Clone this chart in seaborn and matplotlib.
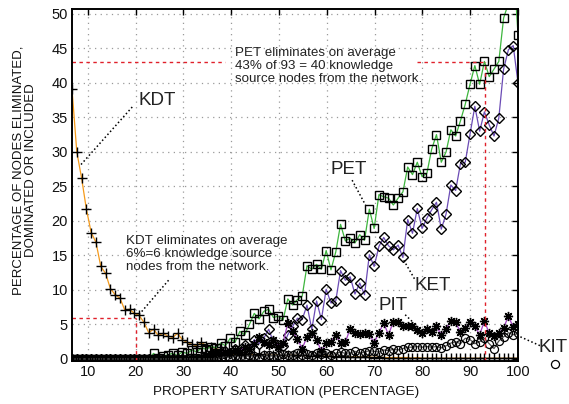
import numpy as np
import pandas as pd
import matplotlib
matplotlib.use("Agg")
import matplotlib.pyplot as plt
import seaborn as sns

# Property saturation levels (percent) at which the network was evaluated
saturation = np.linspace(6.7, 100, 94)

kdt = [39.1, 30.0, 26.2, 21.7, 18.3, 16.9, 13.4, 12.4, 10.2, 9.3,
       8.8, 7.1, 7.2, 6.6, 6.3, 5.3, 3.8, 4.3, 3.4, 3.7,
       3.3, 3.1, 3.7, 2.8, 2.4, 2.1, 1.9, 2.4, 1.9, 1.8,
       1.5, 1.3, 1.0, 0.8, 0.6, 0.6, 0.7, 0.6, 0.6, 0.7,
       0.6, 0.6, 0.5, 0.6, 0.5, 0.5, 0.6, 0.5, 0.5, 0.5,
       0.4, 0.5, 0.4, 0.4, 0.4, 0.3, 0.4, 0.3, 0.3, 0.3,
       0.3, 0.3, 0.3, 0.2, 0.3, 0.2, 0.2, 0.2, 0.2, 0.2,
       0.2, 0.1, 0.2, 0.1, 0.1, 0.1, 0.1, 0.1, 0.1, 0.1,
       0.1, 0.1, 0.1, 0.1, 0.1, 0.1, 0.1, 0.1, 0.1, 0.1,
       0.1, 0.1, 0.1, 0.1]

pet = [0.0] * 17 + [
       0.8, 0.2, 0.4, 0.6, 0.8, 0.5, 1.0, 0.8, 1.3, 1.0,
       1.6, 1.4, 1.8, 1.6, 2.3, 1.9, 3.0, 2.4, 4.0, 3.5,
       5.0, 6.6, 5.8, 6.9, 7.2, 6.0, 6.2, 5.6, 8.7, 7.8,
       8.6, 9.1, 13.5, 13.0, 13.7, 13.0, 15.7, 12.9, 15.5, 19.5,
       17.1, 17.5, 16.8, 18.0, 17.2, 21.7, 18.9, 23.8, 23.5, 23.3,
       22.3, 23.3, 24.2, 27.8, 26.7, 28.5, 26.4, 26.9, 30.4, 32.5,
       28.5, 30.0, 33.2, 32.3, 34.5, 36.9, 39.8, 42.5, 39.8, 43.1,
       40.9, 42.0, 43.1, 49.4, 51.5, 58.0, 47.0]

ket = [0.0] * 29 + [
       0.3, 0.5, 0.8, 1.2, 0.8, 1.5, 1.0, 2.0, 1.5, 2.8,
       2.2, 3.0, 4.3, 2.5, 2.0, 1.9, 3.5, 4.7, 5.9, 5.7,
       7.8, 4.3, 8.4, 5.7, 10.1, 8.1, 8.4, 12.8, 11.4, 11.9,
       9.4, 11.0, 9.3, 15.1, 13.4, 16.3, 17.6, 16.4, 15.8, 16.5,
       14.7, 20.2, 18.2, 21.8, 18.9, 20.4, 21.6, 22.7, 18.8, 21.0,
       25.2, 24.4, 28.3, 28.5, 32.6, 36.6, 33.0, 35.8, 33.9, 32.3,
       34.9, 42.0, 44.8, 45.4, 40.0]

pit = [0.0] * 27 + [
       0.3, 0.5, 0.4, 0.8, 0.6, 1.0, 0.8, 1.3, 1.0, 1.8,
       1.4, 2.2, 3.2, 2.4, 2.0, 2.8, 1.8, 2.3,
       5.2, 4.0, 2.9, 1.5, 3.2, 3.7, 2.8, 1.1, 2.3, 2.5,
       3.5, 2.3, 2.4, 4.4, 3.7, 3.6, 3.8, 3.6, 2.3, 3.8,
       5.2, 3.5, 5.4, 5.3, 4.8, 4.8, 4.8, 4.2, 3.7, 4.4,
       3.9, 4.7, 3.5, 4.4, 5.5, 5.3, 3.9, 4.5, 5.3, 4.8,
       3.5, 5.5, 3.7, 3.3, 3.7, 4.5, 6.2, 4.6, 5.0]

kit = [0.0] * 31 + [
       0.2, 0.3, 0.2, 0.4, 0.3, 0.3, 0.5, 0.4, 0.3, 0.5,
       0.6, 0.4, 0.5, 0.7, 0.5, 0.6, 0.8, 0.6, 0.7, 0.5,
       0.8, 0.7, 0.9, 0.6, 0.8, 1.0, 0.8, 0.9, 1.1, 0.9,
       1.0, 1.2, 1.1, 1.0, 1.3, 1.2, 1.4, 1.3,
       1.5, 1.7, 1.7, 1.8, 1.7, 1.8, 1.7, 1.8, 1.6, 1.9,
       2.3, 2.5, 2.2, 3.0, 2.8, 2.2, 2.5, 3.0, 2.2, 1.5,
       2.6, 3.2, 3.8, 3.5, 3.7]

series_names = ["KDT", "PET", "KET", "PIT", "KIT"]
series_values = [kdt, pet, ket, pit, kit]

frames = [pd.DataFrame({"saturation": saturation, "percent": vals, "method": name})
          for name, vals in zip(series_names, series_values)]
df = pd.concat(frames, ignore_index=True)

styles = {
    "KDT": dict(color="#f59a1b", marker="+", ms=6.8, mew=1.0),
    "PET": dict(color="#3db53d", marker="s", ms=5.8, mew=1.0),
    "KET": dict(color="#6b4bb5", marker="D", ms=5.2, mew=1.0),
    "PIT": dict(color="#a040c0", marker=(8, 2, 0), ms=6.6, mew=1.0),
    "KIT": dict(color="#555555", marker="o", ms=5.8, mew=0.9),
}

sns.set_theme(style="white")
plt.rcParams["font.family"] = ["Liberation Sans", "DejaVu Sans"]

fig = plt.figure(figsize=(5.69, 4.04), dpi=100)
ax = fig.add_axes([72 / 569, 1 - 361 / 404, 446 / 569, 352 / 404])

for name in series_names:
    st = styles[name]
    sub = df[df["method"] == name]
    sns.lineplot(data=sub, x="saturation", y="percent", ax=ax, sort=False,
                 estimator=None, color=st["color"], lw=0.9,
                 marker=st["marker"], markersize=st["ms"],
                 markerfacecolor="none", mec="black", mew=st["mew"],
                 legend=False)

ax.set_xlim(6.7, 100)
ax.set_ylim(-0.3, 50.7)
ax.set_xticks(np.arange(10, 101, 10))
ax.set_yticks(np.arange(0, 51, 5))
ax.grid(True, color="#9a9a9a", lw=0.9, ls=(0, (1, 3.5)))
ax.tick_params(direction="in", length=4, width=1.0, top=True, right=True,
               labelsize=10.5, colors="black", pad=3)
for lab in ax.get_xticklabels() + ax.get_yticklabels():
    lab.set_color("#111111")
for sp in ax.spines.values():
    sp.set_linewidth(1.4)
    sp.set_color("black")

ax.set_xlabel("")
ax.set_ylabel("")
fig.text(286 / 569, 1 - 392 / 404, "PROPERTY SATURATION (PERCENTAGE)",
         ha="center", va="center", fontsize=9.6, color="#111111")
fig.text(25 / 569, 1 - 170 / 404,
         "PERCENTAGE OF NODES ELIMINATED,\nDOMINATED OR INCLUDED",
         ha="center", va="center", rotation=90, fontsize=9.5,
         multialignment="center", linespacing=1.1, color="#111111")

red = dict(color="#e0202a", lw=1.0, ls=(0, (2.5, 2.5)))
# KDT average: 6 % at 20 % saturation
ax.plot([6.7, 20], [6, 6], **red)
ax.plot([20, 20], [-0.3, 6], **red)
# PET average: 43 % at 93 % saturation (broken around the note)
ax.plot([6.7, 38.8], [43, 43], **red)
ax.plot([78.9, 93], [43, 43], **red)
ax.plot([93, 93], [-0.3, 43], **red)

txt = dict(fontsize=9.6, color="#222222", linespacing=1.12, ha="left", va="center")
ax.text(40.9, 42.4, "PET eliminates on average\n43% of 93 = 40 knowledge\n"
        "source nodes from the network.", **txt)
ax.text(17.9, 15.2, "KDT eliminates on average\n6%=6 knowledge source\n"
        "nodes from the network.", **txt)

lab = dict(fontsize=13.5, color="#222222", ha="center", va="center")
dot = dict(color="black", lw=1.1, ls=(0, (1, 1.6)), clip_on=False)
ax.text(24.6, 37.4, "KDT", **lab)
ax.plot([19.3, 8.5], [36.5, 28.1], **dot)
ax.plot([26.9, 20.7], [11.4, 6.4], **dot)
ax.text(64.6, 27.5, "PET", **lab)
ax.plot([65.3, 68.1], [25.9, 22.3], **dot)
ax.text(82.1, 10.6, "KET", **lab)
ax.plot([76.1, 78.6], [14.3, 11.3], **dot)
ax.text(73.9, 7.8, "PIT", **lab)
ax.plot([76.4, 78.2], [6.4, 5.2], **dot)
ax.text(107.4, 1.6, "KIT", clip_on=False, **lab)
ax.plot([100.5, 105.0], [3.2, 1.8], **dot)
ax.plot([107.8], [-0.7], marker="o", ms=5.8, mfc="none", mec="black",
        mew=0.9, clip_on=False)

fig.savefig("out.png", dpi=100)
